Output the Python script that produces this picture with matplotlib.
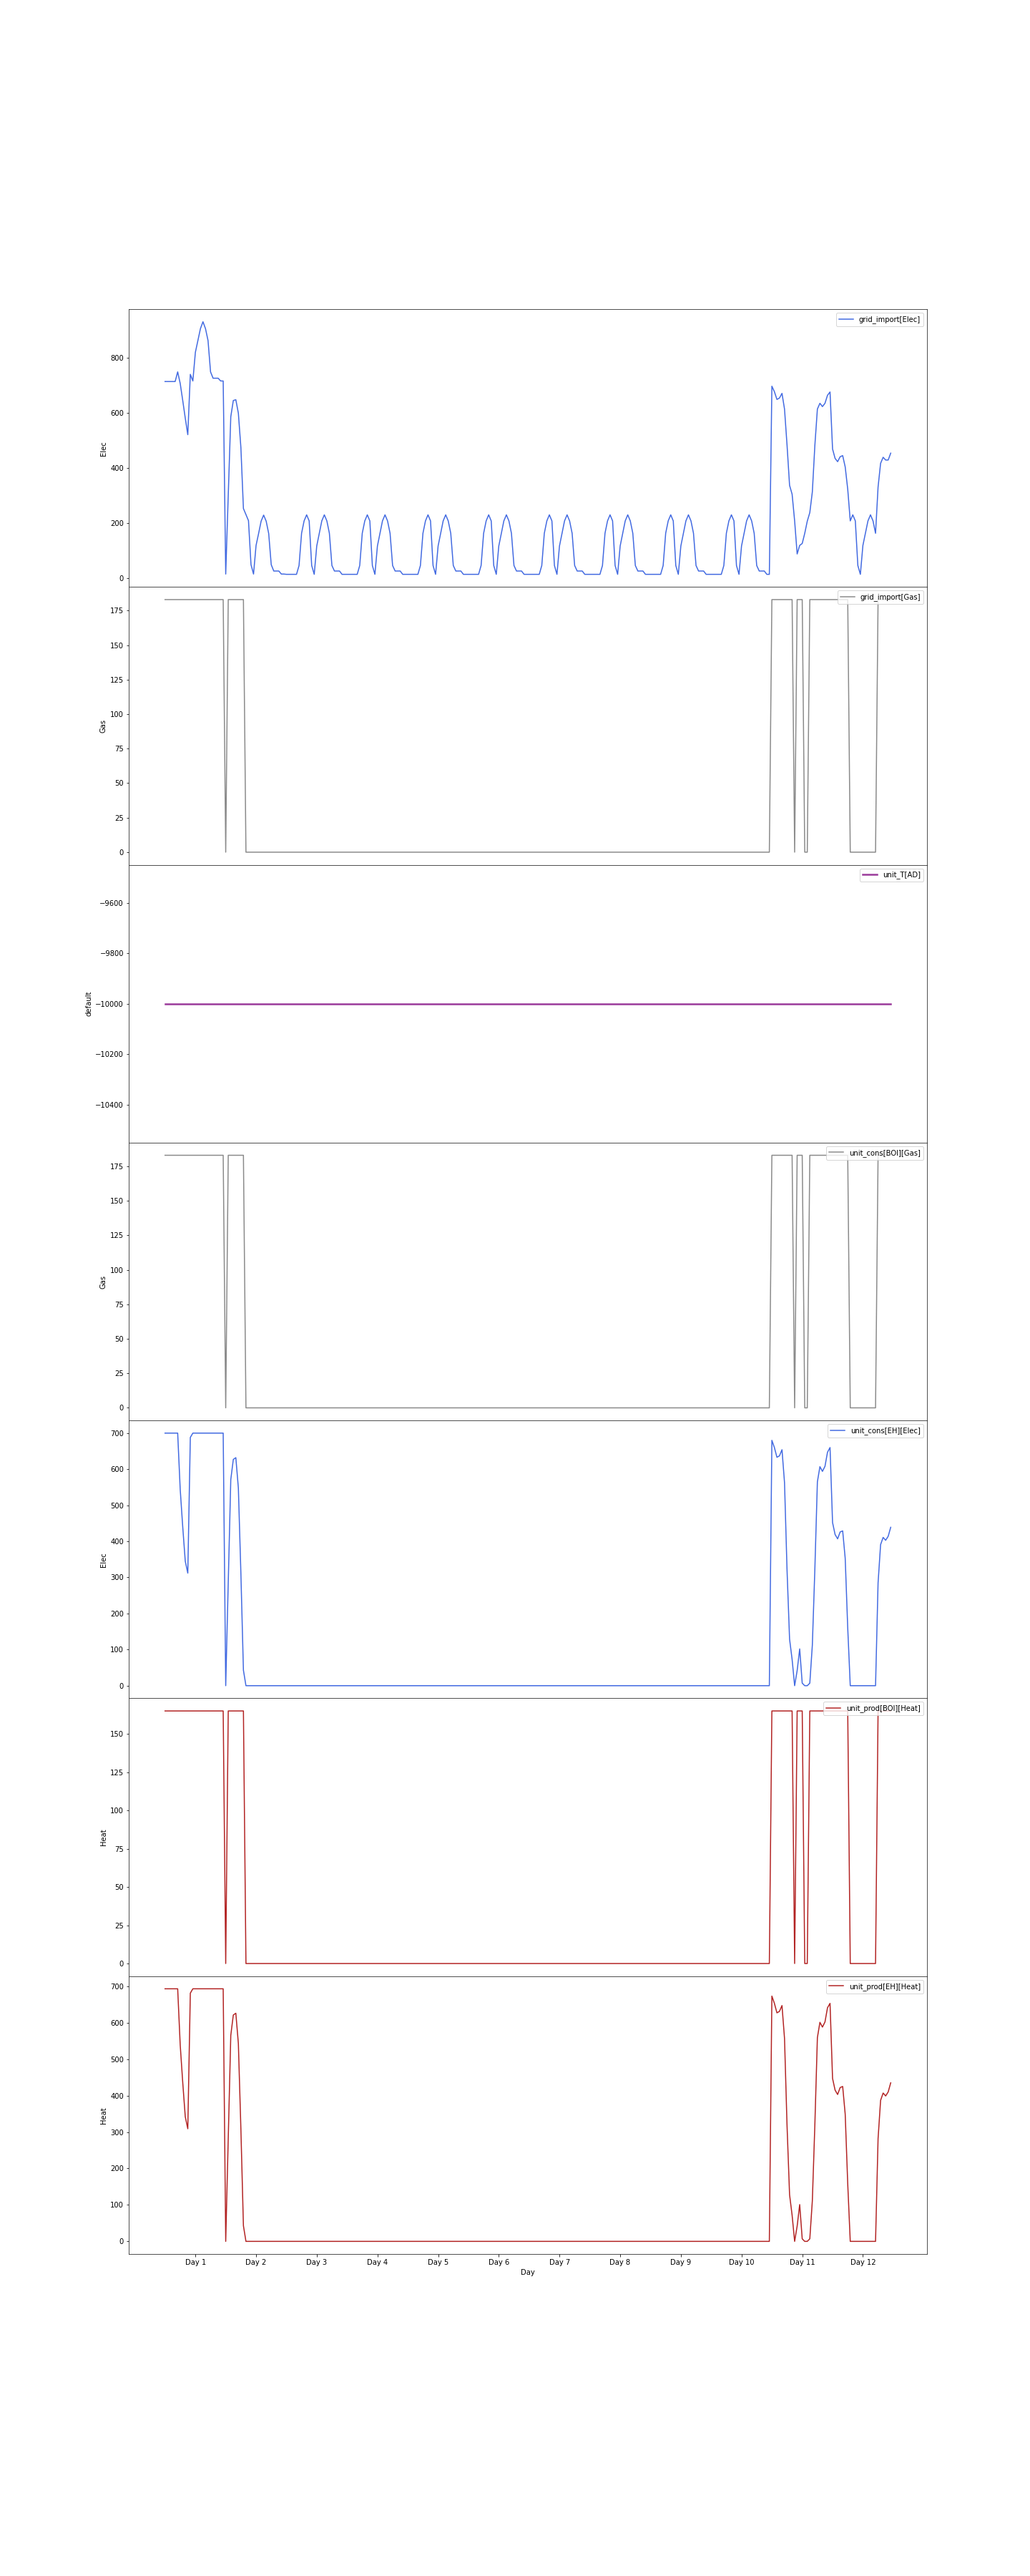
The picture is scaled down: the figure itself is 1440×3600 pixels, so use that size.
import numpy as np
import matplotlib
matplotlib.use("Agg")
import matplotlib.pyplot as plt

# ---------------- data (hourly, 12 days) ----------------
hours = np.arange(288)
day_tick_hours = [12, 36, 60, 84, 108, 132, 156, 180, 204, 228, 252, 276]
day_labels = ["Day 1", "Day 2", "Day 3", "Day 4", "Day 5", "Day 6",
              "Day 7", "Day 8", "Day 9", "Day 10", "Day 11", "Day 12"]

grid_import_elec_days = [
    [713, 713, 713, 713, 713, 748, 706, 644, 580, 520, 739, 715, 819, 862, 905, 930, 905, 862, 748, 725, 725, 725, 715, 715],
    [14, 300, 585, 644, 647, 598, 473, 252, 230, 208, 48, 14, 118, 161, 206, 228, 206, 161, 48, 25, 25, 25, 14, 14],
    [13, 13, 13, 13, 13, 45, 162, 207, 229, 207, 45, 13, 116, 162, 207, 229, 207, 162, 45, 25, 25, 25, 13, 13],
    [13, 13, 13, 13, 13, 45, 162, 207, 229, 207, 45, 13, 116, 162, 207, 229, 207, 162, 45, 25, 25, 25, 13, 13],
    [13, 13, 13, 13, 13, 45, 162, 207, 229, 207, 45, 13, 116, 162, 207, 229, 207, 162, 45, 25, 25, 25, 13, 13],
    [13, 13, 13, 13, 13, 45, 162, 207, 229, 207, 45, 13, 116, 162, 207, 229, 207, 162, 45, 25, 25, 25, 13, 13],
    [13, 13, 13, 13, 13, 45, 162, 207, 229, 207, 45, 13, 116, 162, 207, 229, 207, 162, 45, 25, 25, 25, 13, 13],
    [13, 13, 13, 13, 13, 45, 162, 207, 229, 207, 45, 13, 116, 162, 207, 229, 207, 162, 45, 25, 25, 25, 13, 13],
    [13, 13, 13, 13, 13, 45, 162, 207, 229, 207, 45, 13, 116, 162, 207, 229, 207, 162, 45, 25, 25, 25, 13, 13],
    [13, 13, 13, 13, 13, 45, 162, 207, 229, 207, 45, 13, 116, 162, 207, 229, 207, 162, 45, 25, 25, 25, 13, 13],
    [696, 676, 648, 653, 670, 613, 482, 336, 304, 207, 87, 118, 125, 162, 206, 237, 312, 481, 613, 634, 622, 634, 663, 675],
    [468, 434, 422, 440, 444, 403, 322, 207, 229, 207, 45, 13, 118, 162, 207, 229, 207, 162, 330, 416, 438, 428, 428, 453],
]

eh_elec_days = [
    [700, 700, 700, 700, 700, 700, 544, 440, 345, 312, 688, 700, 700, 700, 700, 700, 700, 700, 700, 700, 700, 700, 700, 700],
    [0, 284, 571, 627, 632, 548, 311, 43] + [0] * 16,
    [0] * 24, [0] * 24, [0] * 24, [0] * 24, [0] * 24, [0] * 24, [0] * 24, [0] * 24,
    [680, 660, 633, 637, 654, 563, 320, 129, 73, 0, 42, 102, 7, 0, 0, 7, 112, 323, 565, 607, 594, 608, 647, 660],
    [452, 419, 407, 426, 429, 353, 160, 0, 0, 0, 0, 0, 0, 0, 0, 0, 0, 0, 285, 391, 411, 403, 414, 439],
]

eh_heat_days = [
    [693] * 6 + [539, 436, 342, 309, 681] + [693] * 13,
    [0, 281, 565, 621, 626, 543, 308, 43] + [0] * 16,
    [0] * 24, [0] * 24, [0] * 24, [0] * 24, [0] * 24, [0] * 24, [0] * 24, [0] * 24,
    [673, 653, 627, 631, 647, 557, 317, 128, 72, 0, 42, 101, 7, 0, 0, 7, 111, 320, 559, 601, 588, 602, 641, 653],
    [447, 415, 403, 422, 425, 349, 158, 0, 0, 0, 0, 0, 0, 0, 0, 0, 0, 0, 282, 387, 407, 399, 410, 435],
]

gas_days = [
    [183] * 24,
    [0] + [183] * 7 + [0] * 16,
    [0] * 24, [0] * 24, [0] * 24, [0] * 24, [0] * 24, [0] * 24, [0] * 24, [0] * 24,
    [183] * 9 + [0] + [183] * 3 + [0] * 2 + [183] * 9,
    [183] * 7 + [0] * 11 + [183] * 6,
]

boi_heat_days = [
    [165] * 24,
    [0] + [165] * 7 + [0] * 16,
    [0] * 24, [0] * 24, [0] * 24, [0] * 24, [0] * 24, [0] * 24, [0] * 24, [0] * 24,
    [165] * 9 + [0] + [165] * 3 + [0] * 2 + [165] * 9,
    [165] * 7 + [0] * 11 + [165] * 6,
]

unit_t_ad = [-10000] * 288


def flat(days):
    out = []
    for d in days:
        out.extend(d)
    return out


grid_import_elec = flat(grid_import_elec_days)
grid_import_gas = flat(gas_days)
unit_cons_boi_gas = flat(gas_days)
unit_cons_eh_elec = flat(eh_elec_days)
unit_prod_boi_heat = flat(boi_heat_days)
unit_prod_eh_heat = flat(eh_heat_days)

series = [
    (grid_import_elec, "#4169E1", "grid_import[Elec]", "Elec", 1.5),
    (grid_import_gas, "#8a8a8a", "grid_import[Gas]", "Gas", 1.5),
    (unit_t_ad, "#9a3a9a", "unit_T[AD]", "default", 2.5),
    (unit_cons_boi_gas, "#8a8a8a", "unit_cons[BOI][Gas]", "Gas", 1.5),
    (unit_cons_eh_elec, "#4169E1", "unit_cons[EH][Elec]", "Elec", 1.5),
    (unit_prod_boi_heat, "#B22222", "unit_prod[BOI][Heat]", "Heat", 1.5),
    (unit_prod_eh_heat, "#B22222", "unit_prod[EH][Heat]", "Heat", 1.5),
]

plt.rcParams["font.family"] = ["DejaVu Sans"]
plt.rcParams["font.size"] = 10
plt.rcParams["axes.edgecolor"] = "#262626"

fig, axes = plt.subplots(7, 1, figsize=(20, 50), dpi=72, sharex=True)
fig.subplots_adjust(left=0.125, right=0.9, top=0.88, bottom=0.125, hspace=0)

for ax, (vals, color, label, ylab, lw) in zip(axes, series):
    ax.plot(hours, vals, color=color, lw=lw, label=label)
    ax.set_ylabel(ylab)
    ax.legend(loc="upper right")

for ax in axes[:-1]:
    ax.tick_params(axis="x", bottom=False, labelbottom=False)

axes[-1].set_xticks(day_tick_hours)
axes[-1].set_xticklabels(day_labels)
axes[-1].set_xlabel("Day")

fig.savefig("out.png", dpi=72)
